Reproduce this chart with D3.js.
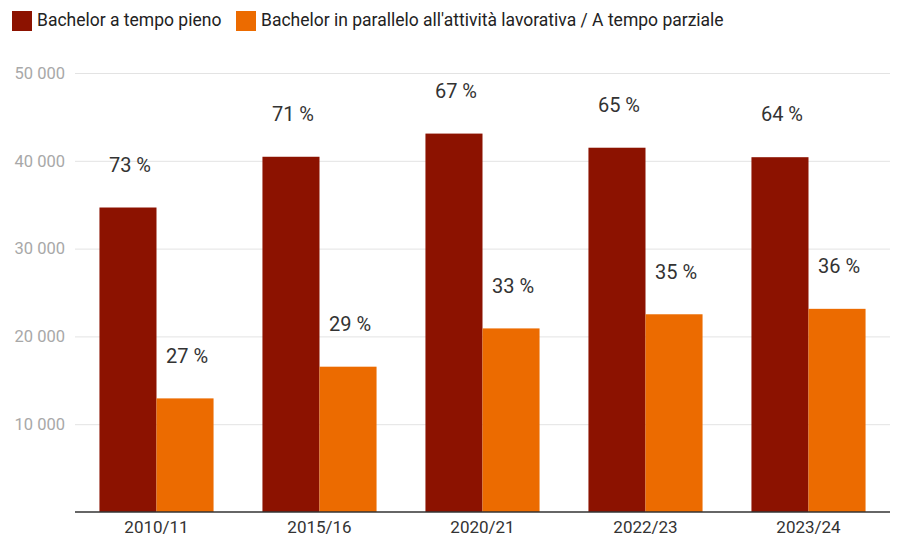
<!DOCTYPE html>
<html>
<head>
<meta charset="utf-8">
<script src="https://cdn.jsdelivr.net/npm/d3@7"></script>
<style>
    body { margin: 0; background: #fff; }
    svg { display: block; font-family: Roboto, "Noto Sans", sans-serif; }
</style>
</head>
<body>
<svg id="chart" width="897" height="540"></svg>
<script>
const years = ["2010/11", "2015/16", "2020/21", "2022/23", "2023/24"];
const seriesNames = ["Bachelor a tempo pieno", "Bachelor in parallelo all'attività lavorativa / A tempo parziale"];
const fullTime = [34680, 40460, 43100, 41490, 40410];
const partTime = [12940, 16550, 20910, 22520, 23140];
const fullTimeShare = ["73 %", "71 %", "67 %", "65 %", "64 %"];
const partTimeShare = ["27 %", "29 %", "33 %", "35 %", "36 %"];
const yTicks = [10000, 20000, 30000, 40000, 50000];
const colors = ["#8c1200", "#ec6b00"];

const svg = d3.select("#chart");
const margin = {left: 75, right: 7, top: 73, bottom: 28};
const width = 897, height = 540;

let x = d3.scaleBand()
    .domain(years)
    .range([margin.left, width - margin.right])
    .paddingInner(0.3)
    .paddingOuter(0.15);
let sub = d3.scaleBand()
    .domain([0, 1])
    .range([0, x.bandwidth()]);
let y = d3.scaleLinear()
    .domain([0, 50000])
    .range([height - margin.bottom, margin.top]);

// gridlines + y labels
let yAxis = d3.axisLeft(y)
    .tickValues(yTicks)
    .tickSize(-(width - margin.right - margin.left))
    .tickFormat(d => d3.format(",")(d).replace(",", " "));
let gy = svg.append("g")
    .attr("transform", `translate(${margin.left},0)`)
    .call(yAxis);
gy.select(".domain").remove();
gy.selectAll(".tick line").attr("stroke", "#e3e3e3");
gy.selectAll(".tick text")
    .attr("x", -10)
    .attr("fill", "#a8a8a8")
    .style("font-size", "16.5px")
    .style("font-family", "Roboto, sans-serif");

let data = years.map((yr, i) => ({
    year: yr,
    values: [fullTime[i], partTime[i]],
    labels: [fullTimeShare[i], partTimeShare[i]]
}));

let groups = svg.selectAll(".group")
    .data(data)
    .enter()
    .append("g")
    .attr("class", "group")
    .attr("transform", d => `translate(${x(d.year)},0)`);

groups.selectAll("rect")
    .data(d => d.values)
    .enter()
    .append("rect")
    .attr("x", (d, i) => sub(i))
    .attr("y", d => y(d))
    .attr("width", sub.bandwidth())
    .attr("height", d => y(0) - y(d))
    .style("fill", (d, i) => colors[i]);

groups.selectAll(".val")
    .data(d => d.values.map((v, i) => ({v: v, label: d.labels[i]})))
    .enter()
    .append("text")
    .attr("class", "val")
    .attr("x", (d, i) => sub(i) + sub.bandwidth() / 2 + 2)
    .attr("y", d => y(d.v) - 41)
    .attr("text-anchor", "middle")
    .attr("dominant-baseline", "middle")
    .style("font-size", "20px")
    .style("fill", "#333")
    .text(d => d.label);

// x axis
let gx = svg.append("g")
    .attr("transform", `translate(0,${y(0)})`)
    .call(d3.axisBottom(x).tickSize(0).tickPadding(9));
gx.select(".domain")
    .attr("stroke", "#333")
    .attr("stroke-width", 1.5)
    .attr("d", `M${margin.left},0H${width - margin.right}`);
gx.selectAll(".tick text")
    .attr("fill", "#333")
    .style("font-size", "17px")
    .style("font-family", "Roboto, sans-serif");

// legend
let legendX = [12, 236];
let legend = svg.selectAll(".legend")
    .data(seriesNames)
    .enter()
    .append("g")
    .attr("class", "legend")
    .attr("transform", (d, i) => `translate(${legendX[i]},11)`);
legend.append("rect")
    .attr("width", 20)
    .attr("height", 20)
    .style("fill", (d, i) => colors[i]);
legend.append("text")
    .attr("x", 25)
    .attr("y", 10)
    .attr("dominant-baseline", "middle")
    .style("font-size", "17.5px")
    .style("fill", "#222")
    .text(d => d);
</script>
</body>
</html>
